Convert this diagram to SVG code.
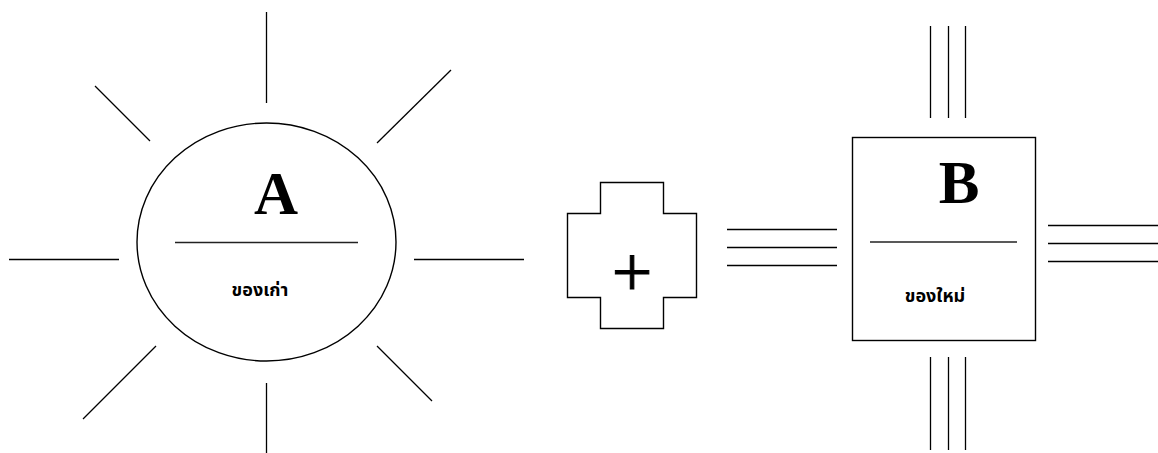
<svg xmlns="http://www.w3.org/2000/svg" width="1158" height="453" viewBox="0 0 1158 453">
<style>
.ln{stroke:#000;stroke-width:1.3;fill:none}
.sh{stroke:#000;stroke-width:1.4;fill:#fff}
.dv{stroke:#222;stroke-width:1.6}
.big{font-family:"Liberation Serif","Times New Roman",serif;font-weight:bold;font-size:61px;text-anchor:middle;fill:#000}
.th{font-family:"Noto Sans Thai","Loma","Garuda","Tlwg Typo","DejaVu Sans",sans-serif;font-weight:bold;font-size:18px;text-anchor:middle;fill:#000}
</style>
<rect width="1158" height="453" fill="#fff"/>
<g id="connectors">
  <line class="ln" x1="9" y1="259.5" x2="119" y2="259.5"/>
  <line class="ln" x1="414" y1="259.5" x2="524" y2="259.5"/>
  <line class="ln" x1="266.5" y1="12" x2="266.5" y2="103"/>
  <line class="ln" x1="266.5" y1="383" x2="266.5" y2="453"/>
  <line class="ln" x1="95" y1="86" x2="150" y2="141"/>
  <line class="ln" x1="377" y1="143" x2="451" y2="70"/>
  <line class="ln" x1="156" y1="346" x2="83" y2="419"/>
  <line class="ln" x1="377" y1="346" x2="432" y2="401"/>
  <line class="ln" x1="727" y1="229.5" x2="837" y2="229.5"/>
  <line class="ln" x1="727" y1="247.5" x2="837" y2="247.5"/>
  <line class="ln" x1="727" y1="265.5" x2="837" y2="265.5"/>
  <line class="ln" x1="1048" y1="225.5" x2="1158" y2="225.5"/>
  <line class="ln" x1="1048" y1="243.5" x2="1158" y2="243.5"/>
  <line class="ln" x1="1048" y1="261.5" x2="1158" y2="261.5"/>
  <line class="ln" x1="930.5" y1="26" x2="930.5" y2="118"/>
  <line class="ln" x1="948.5" y1="26" x2="948.5" y2="118"/>
  <line class="ln" x1="965.5" y1="26" x2="965.5" y2="118"/>
  <line class="ln" x1="930.5" y1="357" x2="930.5" y2="450"/>
  <line class="ln" x1="948.5" y1="357" x2="948.5" y2="450"/>
  <line class="ln" x1="965.5" y1="357" x2="965.5" y2="450"/>
</g>
<g id="nodeA">
  <ellipse class="sh" cx="266.5" cy="242" rx="129.5" ry="119"/>
  <text class="big" x="276" y="214">A</text>
  <line class="dv" x1="175" y1="242.5" x2="358" y2="242.5"/>
  <text class="th" x="260" y="296">ของเก่า</text>
</g>
<g id="plus">
  <path class="sh" d="M600.5 182.5H663.5V213.5H696.5V297.5H663.5V328.5H600.5V297.5H567.5V213.5H600.5Z"/>
  <text x="632" y="296" style="font-family:'Liberation Serif','Times New Roman',serif;font-size:72px;text-anchor:middle;fill:#000;stroke:#000;stroke-width:1">+</text>
</g>
<g id="nodeB">
  <rect class="sh" x="852.5" y="137.5" width="183" height="203"/>
  <text class="big" x="959" y="203">B</text>
  <line class="dv" x1="870" y1="242" x2="1017" y2="242"/>
  <text class="th" x="935" y="302">ของใหม่</text>
</g>
</svg>
